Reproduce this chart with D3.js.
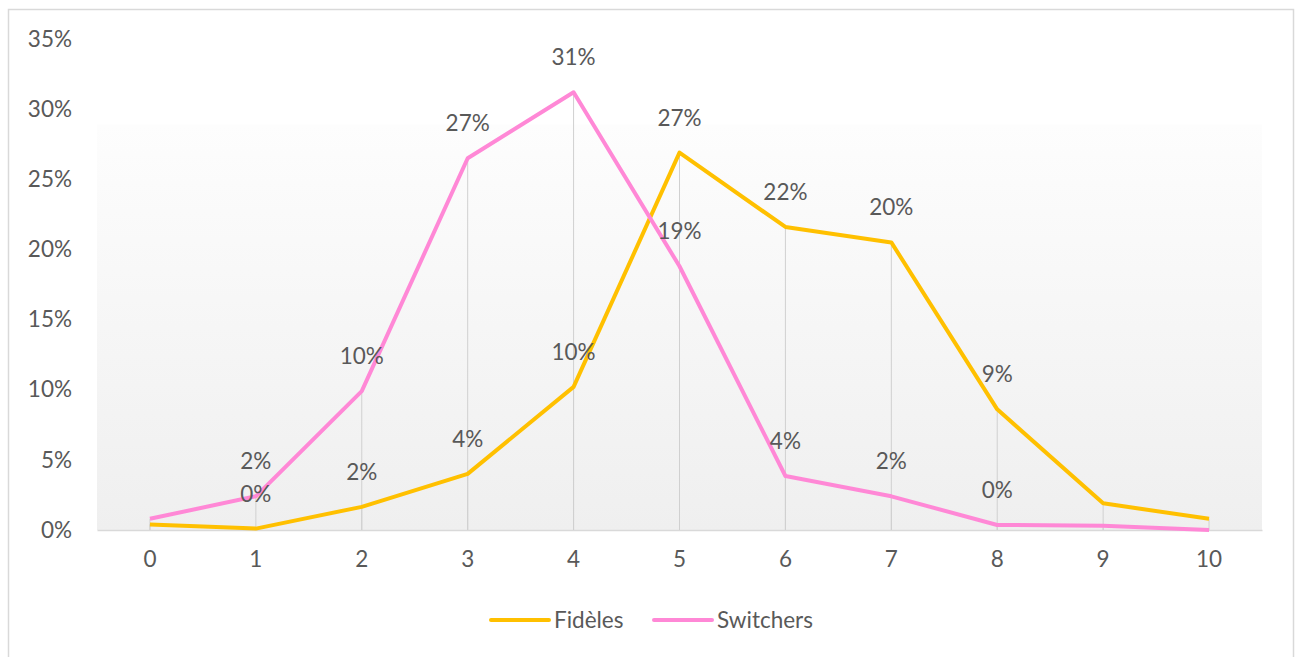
<!DOCTYPE html>
<html><head><meta charset="utf-8">
<script src="https://cdn.jsdelivr.net/npm/d3@7"></script>
<style>
html,body{margin:0;padding:0;background:#fff;}
svg{display:block;}
text{font-family:Lato, "Open Sans", sans-serif;fill:#595959;}
</style></head>
<body>
<svg id="c" width="1299" height="657"></svg>
<script>
const categories = ["0","1","2","3","4","5","6","7","8","9","10"];
const fideles =   [0.4, 0.1, 1.65, 4.0, 10.2, 26.9, 21.6, 20.5, 8.6, 1.9, 0.8];
const switchers = [0.8, 2.4, 9.9, 26.5, 31.2, 18.8, 3.85, 2.4, 0.36, 0.3, 0.0];
const fidelesLabels =   [null, "0%", "2%", "4%", "10%", "27%", "22%", "20%", "9%", null, null];
const switchersLabels = [null, "2%", "10%", "27%", "31%", "19%", "4%", "2%", "0%", null, null];
const yTicks = [0,5,10,15,20,25,30,35];
const seriesNames = ["Fidèles","Switchers"];
const colors = ["#FFC000","#FF88D6"];
const FS = 22.5;

const svg = d3.select("#c");
const pLeft = 97, pRight = 1262, pTop = 39, pBottom = 530;

// chart border
svg.append("rect").attr("x",8.5).attr("y",9.5).attr("width",1285).attr("height",660)
  .attr("fill","#fff").attr("stroke","#d9d9d9").attr("stroke-width",1.5);

const x = d3.scaleBand().domain(categories).range([pLeft,pRight]);
const y = d3.scaleLinear().domain([0,35]).range([pBottom,pTop]);
const cx = c => x(c) + x.bandwidth()/2;

// plot area gradient
const defs = svg.append("defs");
const g = defs.append("linearGradient").attr("id","bg").attr("x1",0).attr("y1",0).attr("x2",0).attr("y2",1);
g.append("stop").attr("offset","0%").attr("stop-color","#fdfdfd");
g.append("stop").attr("offset","100%").attr("stop-color","#efefef");
svg.append("rect").attr("x",pLeft).attr("y",y(28.9)).attr("width",pRight-pLeft).attr("height",pBottom-y(28.9))
  .attr("fill","url(#bg)");

// y axis labels
const yAxis = d3.axisLeft(y).tickValues(yTicks).tickFormat(d=>d+"%").tickSize(0).tickPadding(25);
const ya = svg.append("g").attr("transform",`translate(${pLeft},0)`).call(yAxis);
ya.select(".domain").remove();
ya.selectAll("text").attr("font-size",FS).attr("fill","#595959").style("font-family","Lato, sans-serif");

// x axis
const xAxis = d3.axisBottom(x).tickSize(0).tickPadding(21);
const xa = svg.append("g").attr("transform",`translate(0,${pBottom})`).call(xAxis);
xa.select(".domain").attr("stroke","#d9d9d9").attr("stroke-width",1.5);
xa.selectAll("text").attr("font-size",FS).attr("fill","#595959").style("font-family","Lato, sans-serif");

const series = [fideles, switchers];
// drop lines
series.forEach(s => {
  svg.append("g").selectAll("line").data(categories).join("line")
    .attr("x1",c=>cx(c)).attr("x2",c=>cx(c))
    .attr("y1",(c,i)=>y(s[i])).attr("y2",pBottom)
    .attr("stroke","#d0d0d0").attr("stroke-width",1);
});

// lines
const line = d3.line().x((d,i)=>cx(categories[i])).y(d=>y(d));
series.forEach((s,k) => {
  svg.append("path").datum(s).attr("d",line).attr("fill","none")
    .attr("stroke",colors[k]).attr("stroke-width",4).attr("stroke-linejoin","round");
});

// labels
[[fideles,fidelesLabels],[switchers,switchersLabels]].forEach(([s,labs]) => {
  svg.append("g").selectAll("text").data(categories).join("text")
    .filter((c,i)=>labs[i]!==null)
    .attr("x",c=>cx(c)).attr("y",(c)=>y(s[categories.indexOf(c)])-27)
    .attr("text-anchor","middle").attr("font-size",FS)
    .text(c=>labs[categories.indexOf(c)]);
});

// legend
const leg = svg.append("g");
const legItems = [{n:seriesNames[0],c:colors[0],x:491},{n:seriesNames[1],c:colors[1],x:654}];
legItems.forEach(it => {
  leg.append("line").attr("x1",it.x).attr("x2",it.x+58).attr("y1",620).attr("y2",620)
    .attr("stroke",it.c).attr("stroke-width",4).attr("stroke-linecap","round");
  leg.append("text").attr("x",it.x+63).attr("y",628).attr("font-size",FS).text(it.n);
});
</script>
</body></html>
